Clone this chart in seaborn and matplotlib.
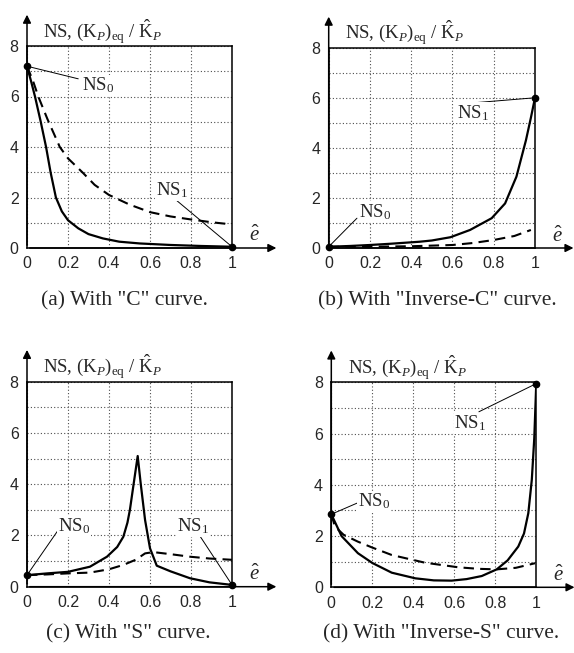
import matplotlib
matplotlib.use("Agg")
import matplotlib.pyplot as plt
import seaborn as sns

# ---- data (e-hat on x) ----
a_solid_x = [0, 0.02, 0.039, 0.067, 0.093, 0.115, 0.141, 0.17, 0.2, 0.25, 0.3, 0.37, 0.45, 0.55, 0.7, 0.85, 1.0]
a_solid_y = [7.2, 6.6, 6.0, 5.0, 4.0, 3.0, 2.0, 1.45, 1.1, 0.78, 0.55, 0.38, 0.25, 0.18, 0.12, 0.08, 0.05]
a_dash_x = [0, 0.03, 0.055, 0.1, 0.16, 0.2, 0.27, 0.33, 0.4, 0.5, 0.6, 0.7, 0.8, 0.9, 0.98]
a_dash_y = [7.2, 6.6, 6.0, 5.1, 4.0, 3.55, 3.0, 2.5, 2.1, 1.72, 1.42, 1.25, 1.13, 1.02, 0.95]

b_solid_x = [0, 0.1, 0.2, 0.3, 0.44, 0.5, 0.59, 0.685, 0.79, 0.855, 0.91, 0.956, 0.98, 1.0]
b_solid_y = [0.05, 0.08, 0.12, 0.17, 0.25, 0.3, 0.43, 0.72, 1.19, 1.78, 2.85, 4.3, 5.2, 6.0]
b_dash_x = [0, 0.2, 0.4, 0.6, 0.7, 0.8, 0.9, 0.98]
b_dash_y = [0.05, 0.05, 0.07, 0.12, 0.2, 0.32, 0.48, 0.72]

c_solid_x = [0, 0.1, 0.2, 0.307, 0.39, 0.44, 0.47, 0.49, 0.502, 0.52, 0.54, 0.555, 0.576, 0.6, 0.633, 0.7, 0.795, 0.89, 1.0]
c_solid_y = [0.45, 0.52, 0.58, 0.78, 1.17, 1.55, 1.95, 2.5, 3.0, 4.0, 5.1, 4.0, 2.6, 1.5, 0.82, 0.6, 0.33, 0.17, 0.07]
c_dash_x = [0, 0.1, 0.2, 0.307, 0.4, 0.47, 0.53, 0.576, 0.616, 0.7, 0.795, 0.89, 1.0]
c_dash_y = [0.45, 0.48, 0.52, 0.55, 0.68, 0.85, 1.05, 1.3, 1.35, 1.27, 1.17, 1.1, 1.05]

d_solid_x = [0, 0.05, 0.13, 0.2, 0.295, 0.41, 0.5, 0.587, 0.66, 0.734, 0.807, 0.86, 0.912, 0.94, 0.961, 0.978, 0.99, 1.0]
d_solid_y = [2.85, 2.0, 1.33, 0.95, 0.57, 0.35, 0.27, 0.26, 0.32, 0.44, 0.7, 1.05, 1.59, 2.1, 2.89, 4.19, 5.8, 8.0]
d_dash_x = [0, 0.018, 0.06, 0.13, 0.2, 0.295, 0.457, 0.62, 0.72, 0.807, 0.9, 0.994]
d_dash_y = [2.85, 2.37, 2.05, 1.78, 1.55, 1.26, 0.96, 0.78, 0.72, 0.7, 0.76, 0.94]

# NS0 / NS1 end points, leader ends and label positions
ns0_pts = {'a': (0, 7.2), 'b': (0, 0.05), 'c': (0, 0.45), 'd': (0, 2.85)}
ns1_pts = {'a': (1, 0.05), 'b': (1, 6.0), 'c': (1, 0.07), 'd': (1, 7.95)}
ns0_lead = {'a': (0.25, 6.7), 'b': (0.137, 1.19), 'c': (0.16, 2.3), 'd': (0.13, 3.3)}
ns1_lead = {'a': (0.72, 1.95), 'b': (0.63, 5.75), 'c': (0.845, 1.96), 'd': (0.72, 6.85)}
ns0_text = {'a': (0.27, 6.45), 'b': (0.145, 1.45), 'c': (0.15, 2.35), 'd': (0.13, 3.35)}
ns1_text = {'a': (0.63, 2.3), 'b': (0.62, 5.4), 'c': (0.73, 2.35), 'd': (0.6, 6.4)}

captions = {'a': '(a) With "C" curve.', 'b': '(b) With "Inverse-C" curve.',
            'c': '(c) With "S" curve.', 'd': '(d) With "Inverse-S" curve.'}

curves = {'a': (a_solid_x, a_solid_y, a_dash_x, a_dash_y),
          'b': (b_solid_x, b_solid_y, b_dash_x, b_dash_y),
          'c': (c_solid_x, c_solid_y, c_dash_x, c_dash_y),
          'd': (d_solid_x, d_solid_y, d_dash_x, d_dash_y)}

# axes box in pixels: left, top, right, bottom
W, H = 574, 653
ax_px = {'a': (27, 46, 232, 248), 'b': (328.7, 47.7, 535, 248),
         'c': (27, 381.7, 232, 586.7), 'd': (331.3, 382.3, 536.3, 587.3)}
cap_px = {'a': (124, 301), 'b': (437, 301), 'c': (128, 634), 'd': (441, 634)}
arrow_x = {'a': 1.23, 'b': 1.2, 'c': 1.23, 'd': 1.2}

sns.set_theme(style='white')
plt.rcParams['font.family'] = ['Liberation Serif', 'DejaVu Serif']
plt.rcParams['mathtext.fontset'] = 'custom'
plt.rcParams['mathtext.rm'] = 'Liberation Serif'
plt.rcParams['mathtext.it'] = 'Liberation Serif:italic'
plt.rcParams['mathtext.bf'] = 'Liberation Serif:bold'

fig = plt.figure(figsize=(W / 100, H / 100), dpi=100)

for key in ['a', 'b', 'c', 'd']:
    l, t, r, b = ax_px[key]
    ax = fig.add_axes([l / W, 1 - b / H, (r - l) / W, (b - t) / H])
    sx, sy, dx, dy = curves[key]

    sns.lineplot(x=sx, y=sy, ax=ax, color='black', lw=1.6, estimator=None, sort=False)
    sns.lineplot(x=dx, y=dy, ax=ax, color='black', lw=1.5, estimator=None, sort=False,
                 linestyle=(0, (5, 3)))

    ax.set_xlim(0, 1)
    ax.set_ylim(0, 8)
    ax.set_xticks([0, 0.2, 0.4, 0.6, 0.8, 1])
    ax.set_xticklabels(['0', '0.2', '0.4', '0.6', '0.8', '1'])
    ax.set_yticks([0, 2, 4, 6, 8])
    ax.set_yticks([1, 3, 5, 7], minor=True)
    ax.tick_params(length=0, which='both', labelsize=11.5, pad=6)
    for lab in ax.get_xticklabels() + ax.get_yticklabels():
        lab.set_family('Liberation Sans')
    ax.grid(True, which='both', color='0.3', lw=0.8, linestyle=(0, (1, 2)))
    for sp in ax.spines.values():
        sp.set_color('black')
        sp.set_linewidth(1.1)

    # axis arrows
    ax.annotate('', xy=(arrow_x[key], 0), xytext=(0, 0), xycoords='data',
                arrowprops=dict(arrowstyle='-|>', color='black', lw=1.1, mutation_scale=12),
                annotation_clip=False)
    ax.annotate('', xy=(0, 9.35), xytext=(0, 0), xycoords='data',
                arrowprops=dict(arrowstyle='-|>', color='black', lw=1.1, mutation_scale=12),
                annotation_clip=False)

    ax.text(0.08, 8.32, r'NS, (K$_P$)$_{\rm eq}$ / $\hat{\rm K}_P$', fontsize=13.5,
            ha='left', va='baseline', clip_on=False)
    ax.text(1.11, 0.45, r'$\hat{e}$', fontsize=15, ha='center', va='center', clip_on=False)

    # NS0 / NS1 markers and leaders
    for pt, lead, txt, name in [(ns0_pts[key], ns0_lead[key], ns0_text[key], r'NS$_0$'),
                                (ns1_pts[key], ns1_lead[key], ns1_text[key], r'NS$_1$')]:
        ax.plot([pt[0], lead[0]], [pt[1], lead[1]], color='black', lw=0.7, clip_on=False)
        ax.plot(pt[0], pt[1], 'o', color='black', ms=4.5, clip_on=False, zorder=5)
        ax.text(txt[0], txt[1], name, fontsize=13.5, ha='left', va='center',
                bbox=dict(facecolor='white', edgecolor='none', pad=0.5))

    ax.set_xlabel('')
    ax.set_ylabel('')

    cx, cy = cap_px[key]
    fig.text(cx / W, 1 - cy / H, captions[key], fontsize=15.5, ha='center', va='center')

fig.savefig('out.png', dpi=100)
